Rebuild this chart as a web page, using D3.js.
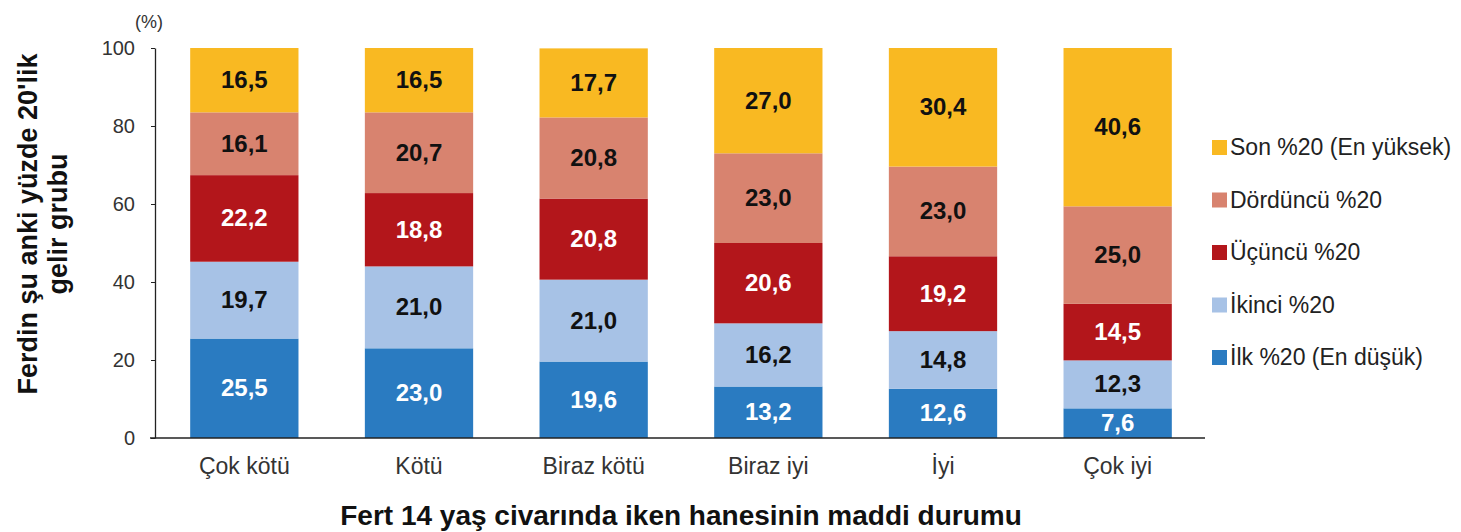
<!DOCTYPE html>
<html>
<head>
<meta charset="utf-8">
<script src="https://cdn.jsdelivr.net/npm/d3@7"></script>
<style>
  body { margin: 0; background: #fff; }
  svg { font-family: "Liberation Sans", Arial, sans-serif; }
</style>
</head>
<body>
<svg id="chart" width="1461" height="532"></svg>
<script>
// categories (x) and series, bottom to top
var categories = ['Çok kötü', 'Kötü', 'Biraz kötü', 'Biraz iyi', 'İyi', 'Çok iyi'];
var seriesNames = ['İlk %20 (En düşük)', 'İkinci %20', 'Üçüncü %20', 'Dördüncü %20', 'Son %20 (En yüksek)'];
var ilk      = [25.5, 23.0, 19.6, 13.2, 12.6, 7.6];
var ikinci   = [19.7, 21.0, 21.0, 16.2, 14.8, 12.3];
var ucuncu   = [22.2, 18.8, 20.8, 20.6, 19.2, 14.5];
var dorduncu = [16.1, 20.7, 20.8, 23.0, 23.0, 25.0];
var son      = [16.5, 16.5, 17.7, 27.0, 30.4, 40.6];
var yTicks = [0, 20, 40, 60, 80, 100];

var colors = ['#2a7bc1', '#a7c2e6', '#b3161b', '#d8836f', '#f9b922'];
var labelColors = ['#fff', '#111', '#fff', '#111', '#111'];

var svg = d3.select('#chart');
var seriesValues = [ilk, ikinci, ucuncu, dorduncu, son];

// build rows for d3.stack
var rows = categories.map(function(c, i) {
  var r = { cat: c };
  seriesNames.forEach(function(s, k) { r[s] = seriesValues[k][i]; });
  return r;
});
var stacked = d3.stack().keys(seriesNames)(rows);

var x = d3.scaleBand().domain(categories).range([157, 1205])
  .paddingInner(0.38).paddingOuter(0.19);
var y = d3.scaleLinear().domain([0, 100]).range([438, 48]);

// bars
var layers = svg.append('g').selectAll('g')
  .data(stacked).enter().append('g')
  .attr('fill', function(d, k) { return colors[k]; });

layers.selectAll('rect')
  .data(function(d) { return d; })
  .enter().append('rect')
  .attr('x', function(d) { return x(d.data.cat); })
  .attr('width', x.bandwidth())
  .attr('y', function(d) { return y(d[1]); })
  .attr('height', function(d) { return y(d[0]) - y(d[1]); });

// value labels
layers.each(function(layer, k) {
  d3.select(this).selectAll('text')
    .data(layer).enter().append('text')
    .attr('x', function(d) { return x(d.data.cat) + x.bandwidth() / 2; })
    .attr('y', function(d) { return (y(d[0]) + y(d[1])) / 2; })
    .attr('dy', '0.33em')
    .attr('text-anchor', 'middle')
    .style('font-size', '24px')
    .style('font-weight', 'bold')
    .attr('fill', labelColors[k])
    .text(function(d) { return d3.format('.1f')(d[1] - d[0]).replace('.', ','); });
});

// y axis
var yAxis = svg.append('g')
  .attr('transform', 'translate(155,0)')
  .call(d3.axisLeft(y).tickValues(yTicks).tickSize(4).tickSizeOuter(0).tickPadding(16));
yAxis.select('.domain').attr('stroke', '#222').attr('stroke-width', 1.3);
yAxis.selectAll('.tick line').attr('stroke', '#222');
yAxis.selectAll('.tick text')
  .style('font-size', '20px')
  .style('font-family', '"Liberation Sans", Arial, sans-serif')
  .attr('fill', '#333');

// x axis line
var xAxis = svg.append('g')
  .attr('transform', 'translate(0,438)')
  .call(d3.axisBottom(x).tickSize(0).tickPadding(20));
xAxis.select('.domain').attr('d', 'M150,0H1205').attr('stroke', '#222').attr('stroke-width', 1.3);
xAxis.selectAll('.tick text')
  .style('font-size', '23px')
  .style('font-family', '"Liberation Sans", Arial, sans-serif')
  .attr('fill', '#333');

// (%) unit
svg.append('text')
  .attr('x', 149).attr('y', 28)
  .attr('text-anchor', 'middle')
  .style('font-size', '18px')
  .attr('fill', '#333')
  .text('(%)');

// y title
var yTitle = svg.append('text')
  .attr('transform', 'translate(37,224) rotate(-90)')
  .attr('text-anchor', 'middle')
  .style('font-size', '27px')
  .style('font-weight', 'bold')
  .attr('fill', '#111');
yTitle.append('tspan').attr('x', 0).attr('y', 0).text('Ferdin şu anki yüzde 20\'lik');
yTitle.append('tspan').attr('x', 0).attr('y', 30).text('gelir grubu');

// x title
svg.append('text')
  .attr('x', 681).attr('y', 525)
  .attr('text-anchor', 'middle')
  .style('font-size', '28px')
  .style('font-weight', 'bold')
  .attr('fill', '#111')
  .text('Fert 14 yaş civarında iken hanesinin maddi durumu');

// legend (top item is last series)
var legend = svg.append('g');
var legendOrder = seriesNames.slice().reverse();
legendOrder.forEach(function(name, i) {
  var k = seriesNames.length - 1 - i;
  var ly = 147 + i * 52.5;
  legend.append('rect')
    .attr('x', 1212).attr('y', ly - 7)
    .attr('width', 15).attr('height', 15)
    .attr('fill', colors[k]);
  legend.append('text')
    .attr('x', 1230).attr('y', ly)
    .attr('dy', '0.35em')
    .style('font-size', '23px')
    .attr('fill', '#222')
    .text(name);
});
</script>
</body>
</html>
